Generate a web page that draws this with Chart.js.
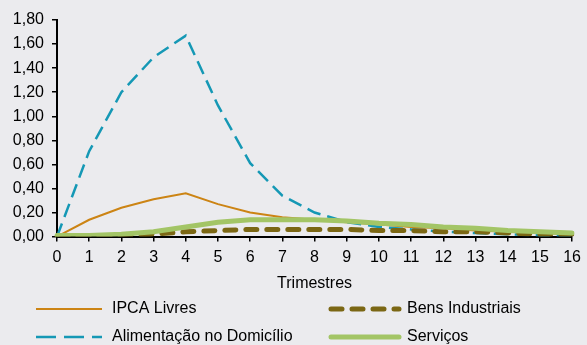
<!DOCTYPE html>
<html>
<head>
<meta charset="utf-8">
<script src="https://cdn.jsdelivr.net/npm/chart.js@4"></script>
<style>
  body { margin: 0; background: #ebebee; }
  #wrap { width: 587px; height: 345px; }
</style>
</head>
<body>
<div id="wrap"><canvas id="chart" width="587" height="345"></canvas></div>
<script>
const trimestres = ['0','1','2','3','4','5','6','7','8','9','10','11','12','13','14','15','16'];
const ipcaLivres = [0, 0.14, 0.24, 0.31, 0.36, 0.27, 0.20, 0.16, 0.14, 0.12, 0.10, 0.08, 0.07, 0.05, 0.04, 0.03, 0.02];
const alimentacao = [0, 0.71, 1.20, 1.49, 1.67, 1.09, 0.61, 0.34, 0.20, 0.12, 0.08, 0.06, 0.04, 0.03, 0.02, 0.01, 0.01];
const bensIndustriais = [0, 0, 0.01, 0.02, 0.04, 0.05, 0.06, 0.06, 0.06, 0.06, 0.05, 0.05, 0.04, 0.04, 0.03, 0.02, 0.02];
const servicos = [0.01, 0.01, 0.02, 0.04, 0.08, 0.12, 0.14, 0.14, 0.14, 0.13, 0.11, 0.10, 0.08, 0.07, 0.05, 0.04, 0.03];

const font = { family: 'Liberation Sans, Arial, sans-serif', size: 16 };

const series = [
  { label: 'IPCA Livres', data: ipcaLivres, color: '#cc8414', width: 2, dash: [], legendDash: [], cap: 'butt', order: 3 },
  { label: 'Alimentação no Domicílio', data: alimentacao, color: '#1598b5', width: 2.5, dash: [14, 7], legendDash: [20, 8], cap: 'butt', order: 2 },
  { label: 'Bens Industriais', data: bensIndustriais, color: '#7b6714', width: 5, dash: [11, 10], legendDash: [11, 10], cap: 'round', order: 1 },
  { label: 'Serviços', data: servicos, color: '#a3c566', width: 5, dash: [], legendDash: [], cap: 'round', order: 0 }
];

// legend drawn under the axis, two columns
const legendPlugin = {
  id: 'customLegend',
  afterDraw(chart) {
    const ctx = chart.ctx;
    const spots = [
      { x: 36, y: 309, x2: 102, tx: 112 },
      { x: 36, y: 337, x2: 102, tx: 112 },
      { x: 331, y: 309, x2: 399, tx: 407 },
      { x: 331, y: 337, x2: 399, tx: 407 }
    ];
    series.forEach((s, i) => {
      const p = spots[i];
      ctx.save();
      ctx.strokeStyle = s.color;
      ctx.lineWidth = s.width;
      ctx.lineCap = s.cap;
      ctx.setLineDash(s.legendDash);
      ctx.beginPath();
      ctx.moveTo(p.x, p.y);
      ctx.lineTo(p.x2, p.y);
      ctx.stroke();
      ctx.setLineDash([]);
      ctx.fillStyle = '#000';
      ctx.font = '16px ' + font.family;
      ctx.textBaseline = 'middle';
      ctx.fillText(s.label, p.tx, p.y);
      ctx.restore();
    });
  }
};

new Chart(document.getElementById('chart'), {
  type: 'line',
  data: {
    labels: trimestres,
    datasets: series.map(s => ({
      label: s.label,
      data: s.data,
      borderColor: s.color,
      borderWidth: s.width,
      borderDash: s.dash,
      borderCapStyle: s.cap,
      pointRadius: 0,
      tension: 0,
      fill: false,
      order: s.order
    }))
  },
  options: {
    responsive: false,
    animation: false,
    layout: { padding: { top: 20, right: 9, bottom: 49, left: 0 } },
    plugins: { legend: { display: false }, tooltip: { enabled: false } },
    scales: {
      x: {
        offset: false,
        grid: { display: true, drawOnChartArea: false, drawTicks: true, tickLength: 5, lineWidth: 1.5, tickWidth: 1.5, tickColor: '#000', color: '#000', offset: false },
        border: { color: '#000', width: 2 },
        ticks: { color: '#000', font: font, padding: 6, maxRotation: 0, autoSkip: false },
        title: { display: true, text: 'Trimestres', color: '#000', font: font, padding: { top: 1, bottom: 3 } }
      },
      y: {
        min: 0,
        max: 1.8,
        afterFit(scale) { scale.width = 57; },
        grid: { display: true, drawOnChartArea: false, drawTicks: true, tickLength: 5, lineWidth: 1.5, tickWidth: 1.5, tickColor: '#000', color: '#000' },
        border: { color: '#000', width: 2 },
        ticks: {
          stepSize: 0.2,
          color: '#000',
          font: font,
          padding: 8,
          callback: v => v.toFixed(2).replace('.', ',')
        }
      }
    }
  },
  plugins: [legendPlugin]
});
</script>
</body>
</html>
